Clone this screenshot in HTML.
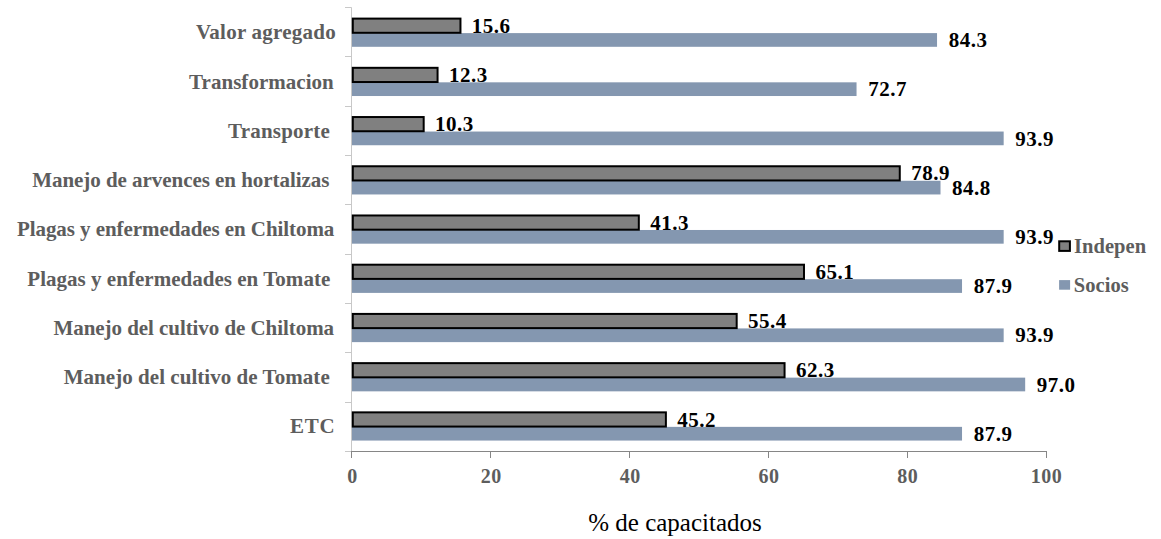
<!DOCTYPE html>
<html><head><meta charset="utf-8"><style>
html,body{margin:0;padding:0;background:#fff;}
body{width:1161px;height:539px;position:relative;overflow:hidden;}
text{font-family:"Liberation Serif",serif;}
.cl{font-weight:bold;font-size:21px;fill:#5d5d5d;}
.dl{font-weight:bold;font-size:21px;fill:#000;letter-spacing:0.5px}
.al{font-weight:bold;font-size:20px;fill:#5d5d5d;letter-spacing:0.5px}
.lg{font-weight:bold;font-size:20.5px;fill:#5d5d5d;letter-spacing:0.05px}
.at{font-size:25px;fill:#000;}
</style></head><body>
<svg width="1161" height="539" viewBox="0 0 1161 539" style="position:absolute;left:0;top:0">
<line x1="351.5" y1="7.4" x2="351.5" y2="451" stroke="#c8c8c8" stroke-width="1"/>
<line x1="345" y1="7.5" x2="351.5" y2="7.5" stroke="#c8c8c8" stroke-width="1"/>
<line x1="345" y1="56.5" x2="351.5" y2="56.5" stroke="#c8c8c8" stroke-width="1"/>
<line x1="345" y1="106.5" x2="351.5" y2="106.5" stroke="#c8c8c8" stroke-width="1"/>
<line x1="345" y1="155.5" x2="351.5" y2="155.5" stroke="#c8c8c8" stroke-width="1"/>
<line x1="345" y1="204.5" x2="351.5" y2="204.5" stroke="#c8c8c8" stroke-width="1"/>
<line x1="345" y1="254.5" x2="351.5" y2="254.5" stroke="#c8c8c8" stroke-width="1"/>
<line x1="345" y1="303.5" x2="351.5" y2="303.5" stroke="#c8c8c8" stroke-width="1"/>
<line x1="345" y1="352.5" x2="351.5" y2="352.5" stroke="#c8c8c8" stroke-width="1"/>
<line x1="345" y1="402.5" x2="351.5" y2="402.5" stroke="#c8c8c8" stroke-width="1"/>
<line x1="345" y1="451.5" x2="351" y2="451.5" stroke="#c8c8c8" stroke-width="1"/>
<rect x="352.0" y="33.10" width="585.04" height="13.7" fill="#8497b0"/>
<rect x="352.8" y="18.60" width="107.66" height="14.2" fill="#808080" stroke="#000" stroke-width="2"/>
<text x="195.90" y="38.60" class="cl" style="letter-spacing:0.239px">Valor agregado</text>
<text x="471.86" y="32.80" class="dl">15.6</text>
<text x="948.64" y="47.10" class="dl">84.3</text>
<rect x="352.0" y="82.32" width="504.54" height="13.7" fill="#8497b0"/>
<rect x="352.8" y="67.82" width="84.76" height="14.2" fill="#808080" stroke="#000" stroke-width="2"/>
<text x="189.10" y="88.82" class="cl" style="letter-spacing:0.032px">Transformacion</text>
<text x="448.96" y="82.02" class="dl">12.3</text>
<text x="868.14" y="96.32" class="dl">72.7</text>
<rect x="352.0" y="131.54" width="651.67" height="13.7" fill="#8497b0"/>
<rect x="352.8" y="117.04" width="70.88" height="14.2" fill="#808080" stroke="#000" stroke-width="2"/>
<text x="228.10" y="138.04" class="cl" style="letter-spacing:0.189px">Transporte</text>
<text x="435.08" y="131.24" class="dl">10.3</text>
<text x="1015.27" y="145.54" class="dl">93.9</text>
<rect x="352.0" y="180.76" width="588.51" height="13.7" fill="#8497b0"/>
<rect x="352.8" y="166.26" width="546.97" height="14.2" fill="#808080" stroke="#000" stroke-width="2"/>
<text x="32.20" y="187.26" class="cl" style="letter-spacing:-0.045px">Manejo de arvences en hortalizas</text>
<text x="911.17" y="180.46" class="dl">78.9</text>
<text x="952.11" y="194.76" class="dl">84.8</text>
<rect x="352.0" y="229.98" width="651.67" height="13.7" fill="#8497b0"/>
<rect x="352.8" y="215.48" width="286.02" height="14.2" fill="#808080" stroke="#000" stroke-width="2"/>
<text x="17.00" y="236.48" class="cl" style="letter-spacing:-0.072px">Plagas y enfermedades en Chiltoma</text>
<text x="650.22" y="229.68" class="dl">41.3</text>
<text x="1015.27" y="243.98" class="dl">93.9</text>
<rect x="352.0" y="279.20" width="610.03" height="13.7" fill="#8497b0"/>
<rect x="352.8" y="264.70" width="451.19" height="14.2" fill="#808080" stroke="#000" stroke-width="2"/>
<text x="27.30" y="285.70" class="cl" style="letter-spacing:0.027px">Plagas y enfermedades en Tomate</text>
<text x="815.39" y="278.90" class="dl">65.1</text>
<text x="973.63" y="293.20" class="dl">87.9</text>
<rect x="352.0" y="328.42" width="651.67" height="13.7" fill="#8497b0"/>
<rect x="352.8" y="313.92" width="383.88" height="14.2" fill="#808080" stroke="#000" stroke-width="2"/>
<text x="53.50" y="334.92" class="cl" style="letter-spacing:-0.059px">Manejo del cultivo de Chiltoma</text>
<text x="748.08" y="328.12" class="dl">55.4</text>
<text x="1015.27" y="342.42" class="dl">93.9</text>
<rect x="352.0" y="377.64" width="673.18" height="13.7" fill="#8497b0"/>
<rect x="352.8" y="363.14" width="431.76" height="14.2" fill="#808080" stroke="#000" stroke-width="2"/>
<text x="63.70" y="384.14" class="cl" style="letter-spacing:0.045px">Manejo del cultivo de Tomate</text>
<text x="795.96" y="377.34" class="dl">62.3</text>
<text x="1036.78" y="391.64" class="dl">97.0</text>
<rect x="352.0" y="426.86" width="610.03" height="13.7" fill="#8497b0"/>
<rect x="352.8" y="412.36" width="313.09" height="14.2" fill="#808080" stroke="#000" stroke-width="2"/>
<text x="289.90" y="433.36" class="cl" style="letter-spacing:0.750px">ETC</text>
<text x="677.29" y="426.56" class="dl">45.2</text>
<text x="973.63" y="440.86" class="dl">87.9</text>
<line x1="351" y1="451.5" x2="1047" y2="451.5" stroke="#868686" stroke-width="1"/>
<line x1="351.5" y1="451" x2="351.5" y2="458" stroke="#868686" stroke-width="1"/>
<text x="352.55" y="483" text-anchor="middle" class="al">0</text>
<line x1="490.5" y1="451" x2="490.5" y2="458" stroke="#868686" stroke-width="1"/>
<text x="491.35" y="483" text-anchor="middle" class="al">20</text>
<line x1="629.5" y1="451" x2="629.5" y2="458" stroke="#868686" stroke-width="1"/>
<text x="630.15" y="483" text-anchor="middle" class="al">40</text>
<line x1="768.5" y1="451" x2="768.5" y2="458" stroke="#868686" stroke-width="1"/>
<text x="768.95" y="483" text-anchor="middle" class="al">60</text>
<line x1="907.5" y1="451" x2="907.5" y2="458" stroke="#868686" stroke-width="1"/>
<text x="907.75" y="483" text-anchor="middle" class="al">80</text>
<line x1="1046.5" y1="451" x2="1046.5" y2="458" stroke="#868686" stroke-width="1"/>
<text x="1046.55" y="483" text-anchor="middle" class="al">100</text>
<text x="675" y="530.5" text-anchor="middle" class="at">% de capacitados</text>
<rect x="1059.2" y="241.3" width="10.7" height="9.6" fill="#808080" stroke="#000" stroke-width="2"/>
<text x="1074.0" y="252.8" class="lg">Indepen</text>
<rect x="1059.1" y="280.1" width="11" height="9.6" fill="#8497b0"/>
<text x="1073.8" y="291.9" class="lg">Socios</text>
</svg>
</body></html>
